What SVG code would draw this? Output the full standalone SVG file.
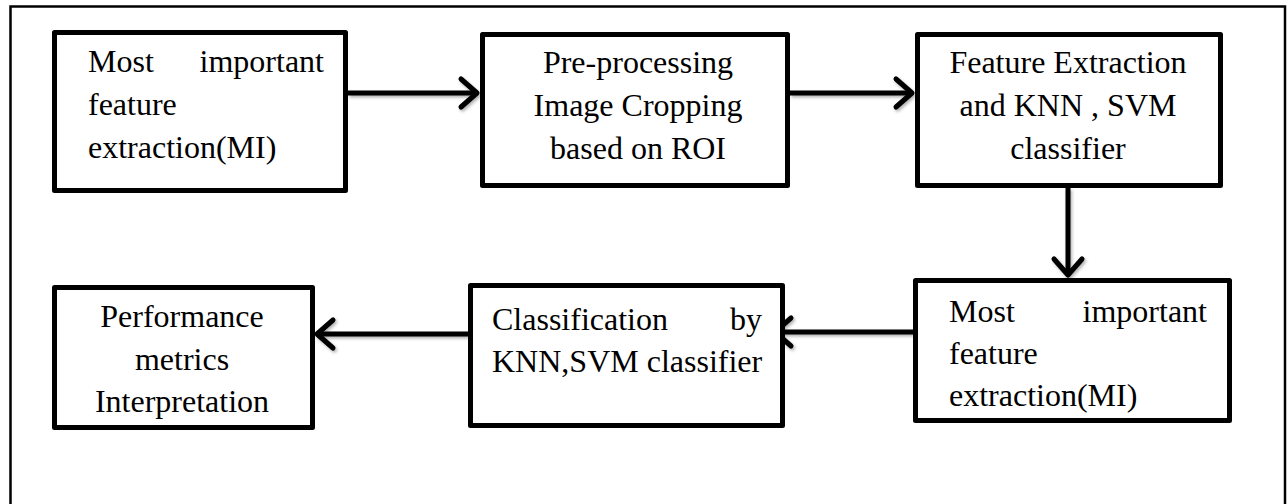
<svg xmlns="http://www.w3.org/2000/svg" width="1288" height="504" viewBox="0 0 1288 504">
<style>
.box{fill:#fff;stroke:#000;stroke-width:5;stroke-linejoin:round}
.t{font-family:"Liberation Serif","Times New Roman",serif;font-size:32px;fill:#000}
.c{text-anchor:middle}
.e{text-anchor:end}
.conn{stroke:#000;stroke-width:5;fill:none}
</style>
<defs>
<marker id="ah" markerUnits="userSpaceOnUse" markerWidth="40" markerHeight="40" refX="0" refY="0" viewBox="-25 -20 30 40" orient="auto" overflow="visible">
<path d="M-16,-14 L0,0 L-16,14" fill="none" stroke="#000" stroke-width="5" stroke-linecap="round" stroke-linejoin="round"/>
</marker>
<filter id="sh" x="-10%" y="-50%" width="120%" height="200%">
<feDropShadow dx="1.5" dy="2" stdDeviation="1.5" flood-color="#000" flood-opacity="0.3"/>
</filter>
</defs>
<rect width="1288" height="504" fill="#fff"/>
<path d="M10.5,504 V6.5 H1285 V504" fill="none" stroke="#000" stroke-width="2.5"/>
<g id="connectors" filter="url(#sh)">
<line class="conn" x1="348" y1="93" x2="477" y2="93" marker-end="url(#ah)"/>
<line class="conn" x1="790" y1="93" x2="912" y2="93" marker-end="url(#ah)"/>
<line class="conn" x1="1068" y1="188" x2="1068" y2="275" marker-end="url(#ah)"/>
<line class="conn" x1="913" y1="332" x2="775" y2="332" marker-end="url(#ah)"/>
<line class="conn" x1="468" y1="334" x2="317" y2="334" marker-end="url(#ah)"/>
</g>
<g id="n1">
<rect class="box" x="54.5" y="32.5" width="291" height="158"/>
<text class="t" x="88" y="72">Most</text>
<text class="t e" x="324" y="72">important</text>
<text class="t" x="88" y="115">feature</text>
<text class="t" x="88" y="158">extraction(MI)</text>
</g>
<g id="n2">
<rect class="box" x="482.5" y="34.5" width="305" height="151"/>
<text class="t c" x="638" y="73">Pre-processing</text>
<text class="t c" x="638" y="116">Image Cropping</text>
<text class="t c" x="638" y="159">based on ROI</text>
</g>
<g id="n3">
<rect class="box" x="917.5" y="34.5" width="303" height="151"/>
<text class="t c" x="1068" y="73">Feature Extraction</text>
<text class="t c" x="1068" y="116">and KNN , SVM</text>
<text class="t c" x="1068" y="159">classifier</text>
</g>
<g id="n6">
<rect class="box" x="915.5" y="280.5" width="314" height="140"/>
<text class="t" x="949" y="322">Most</text>
<text class="t e" x="1207" y="322">important</text>
<text class="t" x="949" y="364">feature</text>
<text class="t" x="949" y="406">extraction(MI)</text>
</g>
<g id="n5">
<rect class="box" x="470.5" y="285.5" width="312" height="140"/>
<text class="t" x="492" y="330">Classification</text>
<text class="t e" x="762" y="330">by</text>
<text class="t" x="492" y="372">KNN,SVM classifier</text>
</g>
<g id="n4">
<rect class="box" x="54.5" y="287.5" width="258" height="140"/>
<text class="t c" x="182" y="327">Performance</text>
<text class="t c" x="182" y="370">metrics</text>
<text class="t c" x="182" y="412">Interpretation</text>
</g>
</svg>
